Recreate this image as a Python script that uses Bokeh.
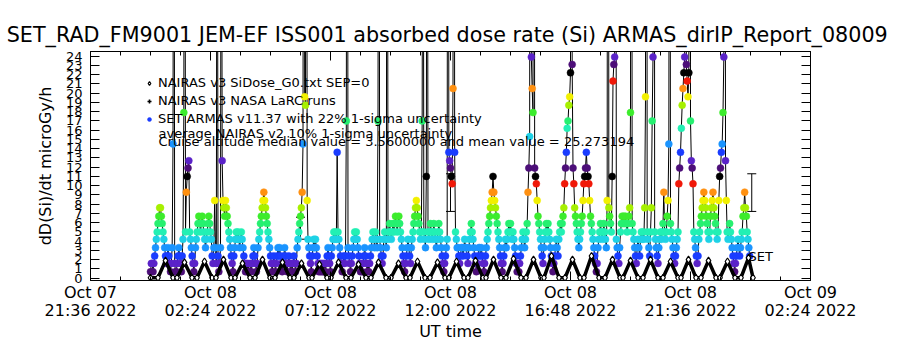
from bokeh.plotting import figure
from bokeh.models import (Range1d, LinearAxis, FixedTicker, ColumnDataSource, Label,
                          Whisker, TeeHead, Legend, LegendItem)
from bokeh.embed import file_html
from bokeh.resources import INLINE

FONT = "DejaVu Sans"

# ---------------- axis ticks (hours since 2022-10-08 00:00 UT) ----------------
x_tick_hours = [-2.4, 2.4, 7.2, 12.0, 16.8, 21.6, 26.4]
x_tick_labels = ["Oct 07\n21:36 2022", "Oct 08\n02:24 2022", "Oct 08\n07:12 2022",
                 "Oct 08\n12:00 2022", "Oct 08\n16:48 2022", "Oct 08\n21:36 2022",
                 "Oct 09\n02:24 2022"]
x_minor_hours = [-1.2, 0.0, 1.2, 3.6, 4.8, 6.0, 8.4, 9.6, 10.8, 13.2, 14.4, 15.6,
                 18.0, 19.2, 20.4, 22.8, 24.0, 25.2]
y_ticks = list(range(0, 25))

# ---------------- SET ARMAS v11.37 dose rate (microGy/h), 2-min samples ----------------
ARMAS_BLOCK_START_H = [0, 4, 8, 12, 16, 20]
ARMAS_BLOCK_LEN_H = 4.0
armas_00_04 = [
    0.7, 1.6, 1.6, 0.7, 1.6, 2.4, 3.3, 4.2, 5.0, 5.9, 6.7, 7.6, 7.6, 6.7, 5.9, 5.0, 4.2, 3.3, 2.4, 1.6,
    2.4, 3.3, 2.4, 1.6, 0.7, 1.6, 3.3, 14.5, 80, 1.6,
    0.7, 0.7, 1.6, 2.4, 3.3, 2.4, 1.6, 0.7, 2.4, 4.2, 17.9, 90, 5.0, 9.3, 11.0, 11.9, 12.7, 5.0, 4.2, 3.3,
    2.4, 1.6, 0.7, 1.6, 3.3, 4.2, 5.0, 5.9, 6.7, 5.9,
    5.0, 5.9, 6.7, 5.9, 5.0, 4.2, 3.3, 4.2, 5.0, 5.9, 6.7, 5.9, 5.0, 4.2, 2.4, 1.6, 3.3, 8.4, 3.3, 1.6,
    70, 2.4, 0.7, 1.6, 3.3, 70, 12.7, 8.4, 7.6, 6.7,
    8.4, 7.6, 6.7, 5.9, 5.0, 4.2, 3.3, 2.4, 1.6, 0.7, 2.4, 3.3, 4.2, 5.0, 4.2, 5.0, 4.2, 3.3, 4.2, 5.0,
    4.2, 3.3, 2.4, 1.6, 0.7, 1.6, 0.7, 1.6, 0.7, 0.7]
armas_04_08 = [
    1.6, 0.7, 1.6, 2.4, 3.3, 2.4, 1.6, 0.7, 1.6, 3.3, 4.2, 5.0, 5.9, 6.7, 7.6, 8.4, 9.3, 8.4, 7.6, 6.7,
    5.9, 5.0, 4.2, 3.3, 2.4, 1.6, 0.7, 1.6, 2.4, 1.6,
    0.7, 1.6, 2.4, 3.3, 2.4, 3.3, 2.4, 1.6, 0.7, 1.6, 2.4, 3.3, 2.4, 1.6, 0.7, 1.6, 2.4, 1.6, 0.7, 1.6,
    0.7, 1.6, 2.4, 1.6, 0.7, 1.6, 3.3, 4.2, 5.0, 5.9,
    6.7, 7.6, 9.3, 14.5, 120, 19.6, 18.7, 100, 8.4, 4.2, 3.3, 2.4, 1.6, 0.7, 2.4, 3.3, 4.2, 3.3, 4.2, 3.3,
    2.4, 1.6, 0.7, 1.6, 0.7, 1.6, 0.7, 1.6, 0.7, 1.6,
    0.7, 1.6, 2.4, 3.3, 2.4, 1.6, 0.7, 2.4, 3.3, 4.2, 5.0, 4.2, 5.0, 4.2, 13.6, 5.0, 4.2, 3.3, 2.4, 1.6,
    0.7, 1.6, 2.4, 1.6, 2.4, 17.0, 110, 3.3, 2.4, 1.6]
armas_08_12 = [
    0.7, 1.6, 2.4, 3.3, 4.2, 5.0, 4.2, 5.0, 4.2, 3.3, 2.4, 1.6, 0.7, 1.6, 0.7, 1.6, 2.4, 3.3, 2.4, 1.6,
    0.7, 1.6, 0.7, 1.6, 2.4, 3.3, 4.2, 5.0, 4.2, 3.3,
    5.0, 4.2, 3.3, 17.0, 95, 4.2, 3.3, 2.4, 1.6, 2.4, 4.2, 5.0, 4.2, 3.3, 85, 4.2, 5.0, 5.9, 5.0, 4.2,
    5.0, 5.9, 5.0, 5.9, 6.7, 5.9, 5.0, 5.9, 6.7, 5.9,
    5.0, 4.2, 3.3, 2.4, 1.6, 0.7, 1.6, 2.4, 3.3, 4.2, 3.3, 2.4, 1.6, 3.3, 4.2, 5.0, 5.9, 6.7, 7.6, 8.4,
    7.6, 6.7, 5.9, 5.0, 4.2, 5.0, 17.0, 75, 5.0, 4.2,
    3.3, 11.0, 80, 5.0, 4.2, 5.0, 5.9, 5.0, 4.2, 5.0, 5.9, 5.0, 4.2, 3.3, 4.2, 5.0, 5.9, 5.0, 4.2, 3.3,
    2.4, 1.6, 0.7, 1.6, 2.4, 3.3, 4.2, 130, 13.6, 12.7]
armas_12_16 = [
    11.9, 11.0, 10.2, 20.5, 140, 13.6, 5.0, 4.2, 3.3, 3.3, 2.4, 1.6, 2.4, 3.3, 3.3, 2.4, 3.3, 4.2, 3.3, 3.3,
    2.4, 1.6, 3.3, 4.2, 5.0, 5.9, 5.0, 4.2, 3.3, 2.4,
    1.6, 0.7, 1.6, 2.4, 3.3, 3.3, 2.4, 3.3, 2.4, 1.6, 0.7, 1.6, 2.4, 3.3, 4.2, 5.0, 5.9, 6.7, 7.6, 8.4,
    9.3, 11.0, 9.3, 8.4, 7.6, 6.7, 5.9, 5.0, 4.2, 3.3,
    2.4, 1.6, 0.7, 1.6, 2.4, 3.3, 4.2, 3.3, 4.2, 5.0, 5.9, 5.0, 5.9, 5.0, 4.2, 5.0, 4.2, 3.3, 2.4, 1.6,
    0.7, 1.6, 0.7, 1.6, 2.4, 3.3, 4.2, 5.0, 4.2, 3.3,
    4.2, 5.0, 5.9, 9.3, 11.9, 15.3, 150, 23.9, 20.5, 17.9, 120, 11.9, 11.0, 10.2, 8.4, 6.7, 5.9, 5.0, 4.2, 3.3,
    2.4, 1.6, 3.3, 4.2, 5.0, 5.9, 5.0, 5.9, 5.0, 4.2]
armas_16_20 = [
    3.3, 2.4, 1.6, 0.7, 1.6, 2.4, 3.3, 4.2, 3.3, 2.4, 4.2, 5.0, 5.9, 5.0, 5.9, 6.7, 7.6, 10.2, 11.9, 13.6,
    16.2, 17.0, 18.7, 19.6, 22.2, 200, 23.1, 11.9, 10.2, 7.6,
    6.7, 5.9, 5.0, 4.2, 3.3, 4.2, 5.0, 5.9, 6.7, 8.4, 10.2, 11.0, 11.9, 13.6, 11.9, 11.0, 10.2, 8.4, 6.7, 5.9,
    5.0, 4.2, 3.3, 2.4, 1.6, 0.7, 1.6, 3.3, 4.2, 5.0,
    5.9, 5.0, 4.2, 5.0, 5.9, 5.0, 4.2, 3.3, 8.4, 160, 7.6, 6.7, 5.9, 5.0, 11.0, 21.3, 23.1, 23.9, 120, 4.2,
    3.3, 2.4, 1.6, 3.3, 5.0, 5.9, 6.7, 5.9, 6.7, 5.9,
    6.7, 5.9, 5.0, 5.9, 6.7, 7.6, 17.9, 130, 5.9, 5.0, 4.2, 3.3, 2.4, 1.6, 3.3, 4.2, 3.3, 2.4, 4.2, 5.0,
    4.2, 5.0, 4.2, 7.6, 19.6, 170, 5.0, 4.2, 3.3, 2.4]
armas_20_24 = [
    5.0, 7.6, 17.0, 23.9, 190, 5.0, 4.2, 3.3, 2.4, 1.6, 3.3, 4.2, 5.0, 4.2, 5.0, 5.9, 9.3, 5.0, 4.2, 5.0,
    6.7, 8.4, 14.5, 90, 5.9, 5.0, 4.2, 3.3, 2.4, 1.6,
    2.4, 3.3, 4.2, 5.0, 10.2, 11.9, 13.6, 16.2, 18.7, 20.5, 22.2, 23.9, 180, 23.1, 21.3, 19.6, 22.2, 150, 17.0, 12.7,
    11.9, 10.2, 5.0, 4.2, 3.3, 2.4, 1.6, 2.4, 4.2, 5.0,
    5.9, 6.7, 7.6, 8.4, 9.3, 8.4, 7.6, 6.7, 5.9, 5.0, 4.2, 5.0, 6.7, 7.6, 8.4, 9.3, 7.6, 6.7, 5.9, 5.0,
    4.2, 5.0, 8.4, 11.0, 11.9, 13.6, 14.5, 17.9, 23.9, 140,
    12.7, 8.4, 5.0, 4.2, 5.0, 5.9, 5.0, 4.2, 3.3, 2.4, 1.6, 0.7, 1.6, 2.4, 3.3, 4.2, 3.3, 2.4, 3.3, 4.2,
    5.0, 6.7, 7.6, 9.3, 7.6, 6.7, 5.0, 4.2, 3.3, 2.4]

# ---------------- NAIRAS v3 SiDose_G0.txt SEP=0 (microGy/h) ----------------
nairas_hour = [0.00,
    0.30, 0.60, 0.90, 1.06, 1.36, 1.66, 1.86, 2.16, 2.46, 2.62, 2.92, 3.22,
    3.38, 3.68, 3.98, 4.18, 4.48, 4.78, 4.98, 5.28, 5.58, 5.74, 6.04, 6.34,
    6.46, 6.76, 7.06, 7.22, 7.52, 7.82, 8.02, 8.32, 8.62, 8.82, 9.12, 9.42,
    9.62, 9.92, 10.22, 10.38, 10.68, 10.98, 11.18, 11.48, 11.78, 11.94, 12.24, 12.54,
    12.70, 13.00, 13.30, 13.42, 13.72, 14.02, 14.22, 14.52, 14.82, 15.02, 15.32, 15.62,
    15.74, 16.04, 16.34, 16.58, 16.88, 17.18, 17.34, 17.64, 17.94, 18.18, 18.48, 18.78,
    18.90, 19.20, 19.50, 19.70, 20.00, 20.30, 20.50, 20.80, 21.10, 21.22, 21.52, 21.82,
    22.02, 22.32, 22.62, 22.78, 23.08, 23.38, 23.62, 23.92, 24.10]
nairas_dose = [0.05,
    0.05, 1.9, 0.05, 0.05, 1.7, 0.05, 0.05, 1.8, 0.05, 0.05, 2.0, 0.05,
    0.05, 1.6, 0.05, 0.05, 2.0, 0.05, 0.05, 1.7, 0.05, 0.05, 1.6, 0.05,
    0.05, 1.5, 0.05, 0.05, 1.7, 0.05, 0.05, 1.5, 0.05, 0.05, 1.7, 0.05,
    0.05, 1.6, 0.05, 0.05, 1.8, 0.05, 0.05, 1.7, 0.05, 0.05, 1.8, 0.05,
    0.05, 1.9, 0.05, 0.05, 2.0, 0.05, 0.05, 2.1, 0.05, 0.05, 2.0, 0.05,
    0.05, 2.4, 0.05, 0.05, 2.0, 0.05, 0.05, 2.4, 0.05, 0.05, 2.0, 0.05,
    0.05, 1.9, 0.05, 0.05, 2.0, 0.05, 0.05, 1.8, 0.05, 0.05, 2.0, 0.05,
    0.05, 1.9, 0.05, 0.05, 1.8, 0.05, 0.05, 2.2, 0.05]

# NAIRAS v3 NASA LaRC runs: no values fall inside the plotted window
larc_hour = [float("nan")]
larc_dose = [float("nan")]

# ---------------- ARMAS 22% 1-sigma error bars ----------------
errbar_hour = [6.0, 12.0, 24.05]
errbar_dose = [5.4, 9.25, 9.25]
ARMAS_SIGMA = 0.22

# colour cycle used for ARMAS points (one colour per 0.86 microGy/h quantisation step)
LEVEL_STEP = 0.86
LEVEL_ZERO = -0.16
level_palette = ["#000000", "#4c0e78", "#5a22c8", "#1a3cff", "#1a94ff", "#1ed2e6",
                 "#22f0b4", "#26f070", "#3cec2c", "#a6f000", "#f2f000", "#ff9010", "#f01808"]

# ---------------- build sources ----------------
armas_hour, armas_dose = [], []
for start, block in zip(ARMAS_BLOCK_START_H,
                        [armas_00_04, armas_04_08, armas_08_12, armas_12_16, armas_16_20, armas_20_24]):
    n = len(block)
    for i, v in enumerate(block):
        armas_hour.append(start + ARMAS_BLOCK_LEN_H * i / n)
        armas_dose.append(v)
armas_color = [level_palette[int(round((v - LEVEL_ZERO) / LEVEL_STEP)) % 13] for v in armas_dose]
armas_src = ColumnDataSource(dict(h=armas_hour, d=armas_dose, c=armas_color))

err_src = ColumnDataSource(dict(h=errbar_hour,
                                up=[v * (1 + ARMAS_SIGMA) for v in errbar_dose],
                                lo=[v * (1 - ARMAS_SIGMA) for v in errbar_dose]))

# ---------------- figure ----------------
p = figure(width=900, height=350, output_backend="svg", toolbar_location=None,
           x_range=Range1d(-2.4, 26.4), y_range=Range1d(-0.25, 24.5),
           min_border_left=90, min_border_right=90, min_border_top=51, min_border_bottom=70,
           background_fill_color="white", border_fill_color="white",
           title="SET_RAD_FM9001  JEM-EF ISS001 absorbed dose rate (Si) ARMAS_dirIP_Report_08009")
p.grid.visible = False
p.outline_line_color = "black"
p.outline_line_width = 1

p.title.align = "center"
p.title.text_font = FONT
p.title.text_font_size = "20.7px"
p.title.text_font_style = "normal"
p.title.text_color = "black"

xt = FixedTicker(ticks=x_tick_hours, minor_ticks=x_minor_hours)
yt = FixedTicker(ticks=y_ticks, minor_ticks=[])


def style_axis(ax, label_size):
    ax.axis_line_color = "black"
    ax.major_tick_line_color = "black"
    ax.minor_tick_line_color = "black"
    ax.major_tick_in = 9
    ax.major_tick_out = 0
    ax.minor_tick_in = 4
    ax.minor_tick_out = 0
    ax.major_label_text_font = FONT
    ax.major_label_text_font_size = label_size
    ax.major_label_text_color = "black"
    ax.axis_label_text_font = FONT
    ax.axis_label_text_font_size = "16px"
    ax.axis_label_text_font_style = "normal"
    ax.axis_label_text_color = "black"


xa = p.xaxis[0]
xa.ticker = xt
xa.major_label_overrides = dict(zip(x_tick_hours, x_tick_labels))
style_axis(xa, "16px")
xa.major_label_text_line_height = 0.98
xa.axis_label = "UT time"
xa.major_label_standoff = 2
xa.axis_label_standoff = -1

ya = p.yaxis[0]
ya.ticker = yt
style_axis(ya, "13px")
ya.axis_label = "dD(Si)/dt microGy/h"
ya.major_label_standoff = 8
ya.axis_label_standoff = 8

top_ax = LinearAxis(ticker=xt)
style_axis(top_ax, "0px")
top_ax.major_label_standoff = 0
top_ax.major_label_text_alpha = 0
p.add_layout(top_ax, "above")

right_ax = LinearAxis(ticker=yt)
style_axis(right_ax, "0px")
right_ax.major_label_standoff = 0
right_ax.major_label_text_alpha = 0
p.add_layout(right_ax, "right")

# ---------------- glyphs ----------------
p.line(x=armas_hour, y=armas_dose, line_color="black", line_width=1)
r_armas = p.scatter(x="h", y="d", source=armas_src, marker="circle", size=7,
                    fill_color="c", line_color="c", line_width=0.5)
p.line(x=nairas_hour, y=nairas_dose, line_color="black", line_width=3.5)
r_nairas = p.scatter(x=nairas_hour, y=nairas_dose, marker="diamond", size=7,
                     fill_color="white", line_color="black", line_width=1.2)
r_larc = p.scatter(x=larc_hour, y=larc_dose, marker="cross", size=9, line_color="black", line_width=1.6)

p.add_layout(Whisker(source=err_src, base="h", upper="up", lower="lo", dimension="height",
                     line_color="black", line_width=1,
                     upper_head=TeeHead(size=9, line_color="black", line_width=1),
                     lower_head=TeeHead(size=9, line_color="black", line_width=1)))

blue_index = armas_color.index(level_palette[3])
legend = Legend(items=[
    LegendItem(label="NAIRAS v3 SiDose_G0.txt SEP=0", renderers=[r_nairas]),
    LegendItem(label="NAIRAS v3 NASA LaRC runs", renderers=[r_larc]),
    LegendItem(label="SET ARMAS v11.37 with 22% 1-sigma uncertainty", renderers=[r_armas], index=blue_index),
], location=(54, 154), background_fill_alpha=0, border_line_alpha=0,
    label_text_font=FONT, label_text_font_size="13px", label_text_color="black",
    label_standoff=4, glyph_width=10, glyph_height=12, label_height=12,
    spacing=3, padding=0, margin=0)
p.add_layout(legend)

for txt, ys in [("average NAIRAS v2 10% 1-sigma uncertainty", 147),
                ("Cruise altitude median value = 3.5600000 and mean value = 25.273194", 139)]:
    p.add_layout(Label(x=68, y=ys, x_units="screen", y_units="screen", text=txt,
                       text_font=FONT, text_font_size="13px", text_color="black",
                       text_baseline="middle"))

p.add_layout(Label(x=23.92, y=2.35, text="SET", text_font=FONT, text_font_size="13px",
                   text_color="black", text_baseline="middle"))

open("out.html", "w").write(file_html(p, INLINE))
